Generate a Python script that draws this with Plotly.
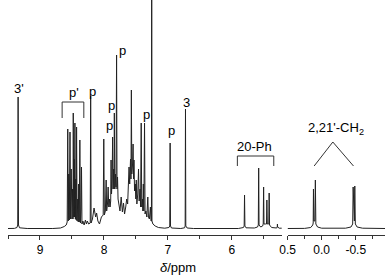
import plotly.graph_objects as go

# ---- data (ppm, intensity in arbitrary units) ----
low_ppm = [9.50, 9.40, 9.36, 9.348, 9.342, 9.336, 9.32, 9.20, 8.80, 8.68, 8.62, 8.59, 8.575,
           8.566, 8.558, 8.550, 8.542, 8.531, 8.522, 8.512, 8.500, 8.490, 8.484, 8.480, 8.472,
           8.465, 8.460, 8.454, 8.447, 8.440, 8.434, 8.428, 8.420, 8.410, 8.402, 8.395, 8.386,
           8.377, 8.368, 8.358, 8.351, 8.344, 8.33, 8.31, 8.29, 8.275, 8.26, 8.24, 8.215, 8.208,
           8.201, 8.18, 8.155, 8.13, 8.115, 8.095, 8.07, 8.04, 8.012, 8.003, 7.994, 7.978, 7.966,
           7.958, 7.945, 7.935, 7.925, 7.912, 7.905, 7.895, 7.889, 7.882, 7.872, 7.865, 7.858,
           7.848, 7.843, 7.838, 7.830, 7.820, 7.812, 7.803, 7.796, 7.788, 7.780, 7.765, 7.750,
           7.731, 7.712, 7.695, 7.678, 7.660, 7.645, 7.630, 7.618, 7.608, 7.598, 7.585, 7.578,
           7.572, 7.565, 7.553, 7.545, 7.538, 7.531, 7.522, 7.510, 7.502, 7.495, 7.486, 7.472,
           7.460, 7.450, 7.436, 7.428, 7.418, 7.410, 7.398, 7.392, 7.385, 7.377, 7.366, 7.358,
           7.345, 7.330, 7.315, 7.305, 7.290, 7.274, 7.265, 7.258, 7.254, 7.250, 7.235, 7.20,
           7.15, 7.05, 6.985, 6.972, 6.966, 6.960, 6.945, 6.80, 6.74, 6.731, 6.726, 6.721, 6.70,
           6.60, 5.90, 5.82, 5.809, 5.803, 5.797, 5.78, 5.65, 5.60, 5.588, 5.582, 5.576, 5.55,
           5.52, 5.511, 5.505, 5.499, 5.475, 5.46, 5.454, 5.447, 5.430, 5.424, 5.418, 5.412,
           5.38, 5.30, 5.292, 5.289, 5.286, 5.26, 5.22]
low_int = [0.5, 0.6, 1.5, 4, 132, 4, 1.2, 0.5, 0.5, 1, 2.5, 4, 7,
           100, 8, 55, 9, 97, 10, 60, 10, 40, 10, 116, 12,
           70, 12, 106, 10, 50, 9, 102, 8, 30, 7, 45, 7,
           89, 6, 20, 62, 5, 8, 4, 9, 5, 8, 5, 6, 133,
           6, 10, 21, 12, 16, 8, 5, 12, 14, 90, 14, 18, 49,
           18, 25, 42, 22, 30, 22, 28, 69, 35, 50, 92, 40,
           60, 40, 116, 40, 55, 42, 174, 40, 52, 30, 24, 18,
           32, 17, 26, 15, 22, 30, 25, 40, 62, 45, 70, 50,
           139, 55, 65, 85, 50, 69, 38, 45, 30, 49, 25, 35,
           60, 28, 40, 22, 106, 22, 30, 18, 45, 18, 106, 15,
           18, 12, 32, 12, 10, 22, 8, 8, 320, 8, 5, 3,
           1.5, 0.8, 1.5, 3, 86, 3, 1, 0.5, 1.2, 3, 120, 3, 1,
           0.5, 0.5, 1.5, 3, 34, 3, 1.2, 1, 2, 4, 61, 4, 2,
           3, 5, 42, 5, 5, 5, 29, 5, 5, 5, 36, 4,
           1.5, 1, 2, 5, 2, 0.8, 0.8]

high_ppm = [0.50, 0.25, 0.16, 0.13, 0.124, 0.120, 0.114, 0.100, 0.092, 0.085, 0.06, 0.0,
            -0.35, -0.43, -0.455, -0.462, -0.472, -0.480, -0.486, -0.494, -0.52, -0.60, -0.93]
high_int = [0.5, 0.6, 1.5, 4, 6, 40, 8, 8, 49, 5, 2, 0.8,
            0.8, 2, 5, 42, 8, 8, 43, 5, 2, 0.8, 0.5]

low_ticks = [9, 8, 7, 6]
high_tickvals = [0.5, 0.0, -0.5]
high_ticktext = ["0.5", "0.0", "-0.5"]

# peak labels: (text, ppm, intensity)
labels_text = ["3'", "p'", "p", "p", "p", "p", "p", "p", "3", "20-Ph"]
labels_ppm = [9.331, 8.469, 8.177, 7.715, 7.885, 7.915, 7.331, 6.946, 6.715, 5.654]
labels_int = [141, 137, 138, 179, 124, 104, 115, 99, 127, 83]

FONT = "Liberation Sans, Arial, sans-serif"
LC = "#222222"

fig = go.Figure()
fig.add_trace(go.Scatter(x=low_ppm, y=low_int, mode="lines", xaxis="x", yaxis="y",
                         line=dict(color=LC, width=1), hoverinfo="skip"))
fig.add_trace(go.Scatter(x=high_ppm, y=high_int, mode="lines", xaxis="x2", yaxis="y",
                         line=dict(color=LC, width=1), hoverinfo="skip"))

ann = []
for t, px, py in zip(labels_text, labels_ppm, labels_int):
    ann.append(dict(text=t, x=px, y=py, xref="x", yref="y", showarrow=False,
                    font=dict(family=FONT, size=13, color="black")))
ann.append(dict(text="2,21'-CH<sub>2</sub>", x=-0.207, y=101, xref="x2", yref="y",
                showarrow=False, font=dict(family=FONT, size=13, color="black")))
ann.append(dict(text="<i>δ</i>/ppm", x=(175 - 2) / 383, y=(235 - 267) / 235,
                xref="paper", yref="paper", yanchor="middle",
                showarrow=False, font=dict(family=FONT, size=13, color="black")))

shapes = []
def seg(x0, y0, x1, y1, xref="x"):
    shapes.append(dict(type="line", x0=x0, y0=y0, x1=x1, y1=y1, xref=xref, yref="y",
                       line=dict(color="#333333", width=1)))

# p' bracket
seg(8.654, 127, 8.315, 127); seg(8.654, 127, 8.654, 111); seg(8.315, 127, 8.315, 111)
# 20-Ph bracket
seg(5.915, 73, 5.346, 73); seg(5.915, 73, 5.915, 63); seg(5.346, 73, 5.346, 63)
# CH2 roof
seg(-0.164, 87, 0.110, 63, "x2"); seg(-0.164, 87, -0.467, 63, "x2")

axis_common = dict(showline=True, linecolor="#333333", linewidth=1, ticks="outside",
                   ticklen=4, tickcolor="#333333", showgrid=False, zeroline=False,
                   tickfont=dict(family=FONT, size=12, color="black"))

fig.update_layout(
    width=385, height=277, margin=dict(l=2, r=0, t=0, b=42),
    paper_bgcolor="white", plot_bgcolor="white", showlegend=False,
    xaxis=dict(domain=[0, 278.2 / 383], range=[9.5, 5.22], anchor="y",
               tickvals=low_ticks, ticktext=[str(v) for v in low_ticks],
               minor=dict(dtick=0.5, ticks="outside", ticklen=3, tickcolor="#333333"),
               **axis_common),
    xaxis2=dict(domain=[284 / 383, 1.0], range=[0.5, -0.929], anchor="y",
                tickvals=high_tickvals, ticktext=high_ticktext,
                minor=dict(dtick=0.25, ticks="outside", ticklen=3, tickcolor="#333333"),
                **axis_common),
    yaxis=dict(range=[-6, 229], visible=False, fixedrange=True),
    annotations=ann, shapes=shapes,
)

fig.write_html("out.html", config={"displayModeBar": False},
               post_script="document.body.style.margin='0';document.body.style.padding='0';")
